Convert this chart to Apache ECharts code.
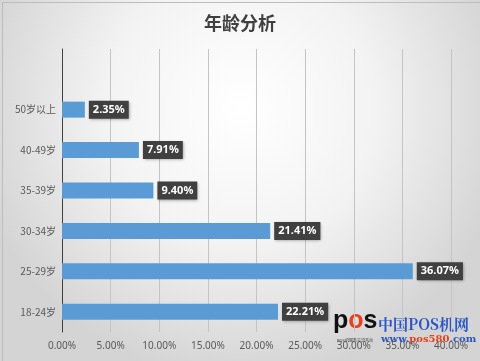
<!DOCTYPE html>
<html><head><meta charset="utf-8">
<script src="https://cdn.jsdelivr.net/npm/echarts@6/dist/echarts.min.js"></script>
<style>html,body{margin:0;padding:0;}#c{width:480px;height:361px;}</style>
</head><body><div id="c"></div>
<script>
const categories = ['18-24岁','25-29岁','30-34岁','35-39岁','40-49岁','50岁以上',''];
const values = [22.21, 36.07, 21.41, 9.40, 7.91, 2.35, null];
const xTicks = [0,5,10,15,20,25,30,35,40];
const chart = echarts.init(document.getElementById('c'));
chart.setOption({
  backgroundColor: {type:'radial', x:0.5, y:0.3, r:0.75, colorStops:[{offset:0,color:'#ffffff'},{offset:0.5,color:'#f3f3f3'},{offset:1,color:'#d4d4d4'}]},
  title:{text:'年龄分析', left:'center', top:9, textStyle:{fontFamily:'Noto Sans CJK SC', fontSize:18, fontWeight:'bold', color:'#404040'}},
  grid:{left:62, right:29, top:49, bottom:29, containLabel:false},
  xAxis:{type:'value', min:0, max:40, interval:5,
    axisLine:{show:false}, axisTick:{show:false},
    axisLabel:{formatter:v=>v.toFixed(2)+'%', color:'#595959', fontSize:10, fontFamily:'Noto Sans', margin:9},
    splitLine:{lineStyle:{color:'#c4c4c4', width:1}}},
  yAxis:{type:'category', data:categories,
    axisLine:{lineStyle:{color:'#404040'}},
    axisTick:{length:4, lineStyle:{color:'#404040'}},
    axisLabel:{color:'#595959', fontSize:10, fontFamily:'Noto Sans CJK SC', margin:6}},
  series:[{type:'bar', data:values, barWidth:16, itemStyle:{color:'#5B9BD5'},
    label:{show:true, position:'right', distance:4, formatter:p=>p.value.toFixed(2)+'%',
      color:'#ffffff', fontWeight:'bold', fontSize:11, fontFamily:'Noto Sans',
      backgroundColor:'#404040', padding:[4,4,3,4],
      shadowColor:'rgba(0,0,0,0.35)', shadowBlur:3, shadowOffsetX:1, shadowOffsetY:1}}],
  graphic:[
    {type:'rect', left:0, top:0, shape:{width:479, height:360}, style:{fill:'none', stroke:'#bdbdbd', lineWidth:1}, silent:true},
    {type:'text', left:333, top:309, style:{rich:{a:{font:'bold 25px Arial', fill:'#111'}, b:{font:'bold 25px Arial', fill:'#e8401c'}}, text:'{a|p}{b|o}{a|s}'}},
    {type:'text', left:337, top:338, style:{text:'POS机服务交流平台', font:'4px Noto Sans CJK SC', fill:'#333'}},
    {type:'text', left:378, top:317, style:{text:'中国POS机网', font:'bold 15px Noto Serif CJK SC, Noto Sans CJK SC', fill:'#2a56c6'}},
    {type:'text', left:381, top:334, style:{rich:{a:{font:'bold 10px DejaVu Serif', fill:'#2a56c6'}, r:{font:'bold 10px DejaVu Serif', fill:'#e8401c'}}, text:'{a|www.}{r|pos580}{a|.com}'}}
  ]
});
</script></body></html>
